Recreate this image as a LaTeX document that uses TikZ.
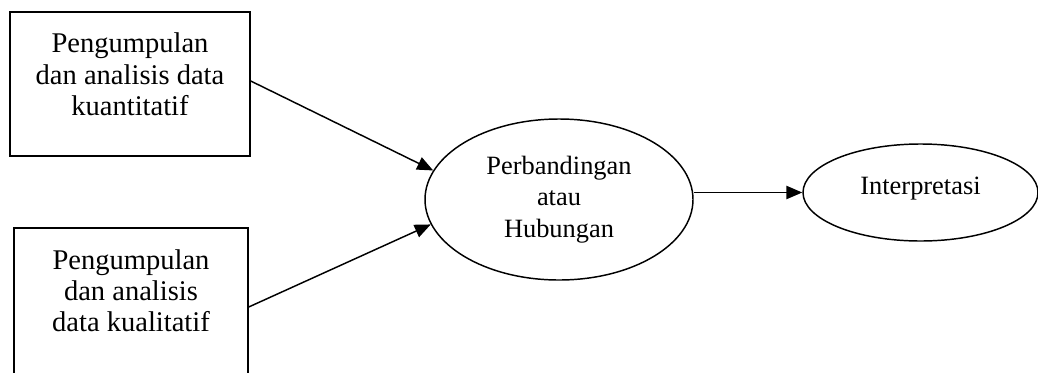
\documentclass[tikz,border=0pt]{standalone}
\usepackage{fontspec}
\setmainfont{Liberation Serif}
\usetikzlibrary{shapes.geometric,arrows.meta}
\begin{document}
\begin{tikzpicture}[x=0.75pt,y=-0.75pt, line width=1.1pt,
  boxshape/.style={draw, rectangle, inner sep=0pt},
  ellshape/.style={draw, ellipse, inner sep=0pt, align=center, font=\fontsize{19.8pt}{23.4pt}\selectfont},
  boxtext/.style={align=center, inner sep=0pt, anchor=north, font=\fontsize{21.4pt}{23.6pt}\selectfont},
  conn/.style={-{Triangle[length=12pt,width=10pt]}}]
\useasboundingbox (0,0) rectangle (1038,372);
\clip (0,0) rectangle (1038,372);
\node[boxshape, minimum width=180pt, minimum height=108pt] (box1) at (130,84) {};
\node[boxshape, minimum width=175.5pt, minimum height=118.5pt] (box2) at (131,307) {};
\node[boxtext] (t1) at (130,32) {Pengumpulan\\dan analisis data\\kuantitatif};
\node[boxtext] (t2) at (131,248.5) {Pengumpulan\\dan analisis\\data kualitatif};
\node[ellshape, minimum width=201pt, minimum height=120.75pt] (ell1) at (559,199.5) {Perbandingan\\atau\\Hubungan};
\node[ellshape, minimum width=176.25pt, minimum height=72.75pt, text depth=9.4pt] (ell2) at (920.5,192.5) {Interpretasi};
\draw[conn] ([yshift=2.25pt]box1.east) -- (ell1.167);
\draw[conn] (box2.east) -- (ell1.191);
\draw[conn] (ell1.east |- ell2.west) -- (ell2.west);
\end{tikzpicture}
\end{document}
